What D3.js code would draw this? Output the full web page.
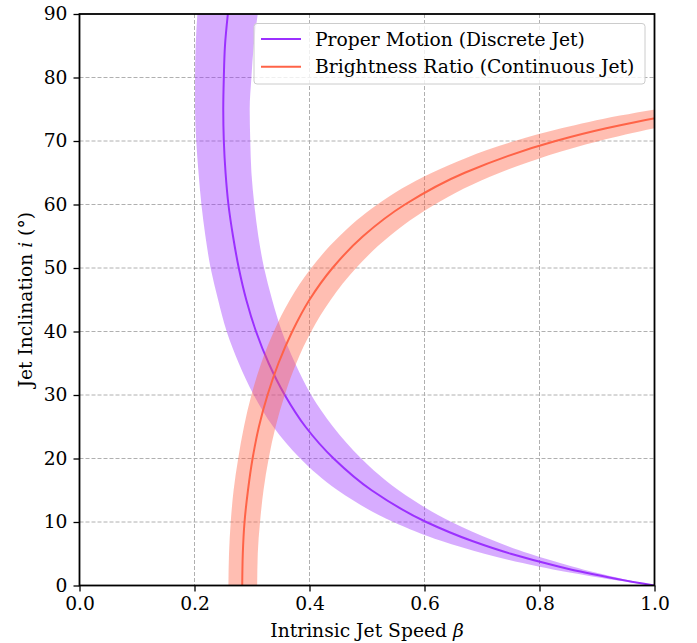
<!DOCTYPE html>
<html>
<head>
<meta charset="utf-8">
<script src="https://cdn.jsdelivr.net/npm/d3@7"></script>
<style>
  body { margin: 0; background: #fff; }
  svg text { font-family: "DejaVu Serif"; }
</style>
</head>
<body>
<div id="chart"></div>
<script>
// values (inclination in degrees, speed as beta)
var pmIncl = [0, 1, 2, 3, 5, 7, 10, 15, 20, 25, 30, 35, 40, 45, 50, 55, 60, 65, 70, 75, 80, 85, 90];
var pmBeta = [1.000, 0.937, 0.881, 0.833, 0.750, 0.683, 0.603, 0.508, 0.442, 0.393, 0.357, 0.329, 0.307, 0.290, 0.277, 0.267, 0.259, 0.254, 0.251, 0.250, 0.251, 0.253, 0.258];
var pmBetaLow = [1.000, 0.921, 0.855, 0.798, 0.704, 0.630, 0.546, 0.449, 0.384, 0.337, 0.303, 0.277, 0.256, 0.241, 0.228, 0.219, 0.212, 0.207, 0.203, 0.201, 0.201, 0.202, 0.205];
var pmBetaHigh = [1.000, 0.947, 0.899, 0.857, 0.783, 0.722, 0.647, 0.555, 0.490, 0.441, 0.403, 0.375, 0.352, 0.335, 0.321, 0.311, 0.304, 0.299, 0.297, 0.296, 0.299, 0.303, 0.310];

var brIncl = [0, 5, 10, 15, 20, 25, 30, 35, 40, 45, 50, 55, 60, 65, 70, 72, 73, 74, 76];
var brBeta = [0.283, 0.284, 0.287, 0.293, 0.301, 0.312, 0.327, 0.346, 0.370, 0.400, 0.440, 0.493, 0.566, 0.670, 0.828, 0.916, 0.968, 1.027, 1.170];
var brBetaLow = [0.259, 0.260, 0.263, 0.268, 0.276, 0.286, 0.299, 0.316, 0.338, 0.366, 0.403, 0.452, 0.518, 0.613, 0.757, 0.838, 0.886, 0.940, 1.071];
var brBetaHigh = [0.309, 0.310, 0.314, 0.320, 0.329, 0.341, 0.357, 0.377, 0.403, 0.437, 0.481, 0.539, 0.618, 0.731, 0.904, 1.000, 1.057, 1.121, 1.277];

var xTicks = [0, 0.2, 0.4, 0.6, 0.8, 1.0];
var yTicks = [0, 10, 20, 30, 40, 50, 60, 70, 80, 90];
var seriesNames = ["Proper Motion (Discrete Jet)", "Brightness Ratio (Continuous Jet)"];
var seriesColors = ["#9b30ff", "#ff6347"];

var svgWidth = 697;
var svgHeight = 643;
var margin = { top: 14, right: 42.5, bottom: 57.5, left: 79.5 };
var width = svgWidth - margin.left - margin.right;
var height = svgHeight - margin.top - margin.bottom;
var fontSize = "18.7px";

var svg = d3.select("#chart")
  .append("svg")
  .attr("width", svgWidth)
  .attr("height", svgHeight)
  .attr("font-family", "DejaVu Serif");

var chartGroup = svg.append("g")
  .attr("transform", `translate(${margin.left}, ${margin.top})`);

var xScale = d3.scaleLinear().domain([0, 1]).range([0, width]);
var yScale = d3.scaleLinear().domain([0, 90]).range([height, 0]);

svg.append("defs").append("clipPath")
  .attr("id", "plotClip")
  .append("rect")
  .attr("width", width)
  .attr("height", height);

// grid
chartGroup.append("g")
  .selectAll("line")
  .data(xTicks.slice(1, -1))
  .enter()
  .append("line")
  .attr("x1", d => xScale(d)).attr("x2", d => xScale(d))
  .attr("y1", 0).attr("y2", height)
  .attr("stroke", "#b0b0b0").attr("stroke-width", 1)
  .attr("stroke-dasharray", "4,2");

chartGroup.append("g")
  .selectAll("line")
  .data(yTicks.slice(1, -1))
  .enter()
  .append("line")
  .attr("y1", d => yScale(d)).attr("y2", d => yScale(d))
  .attr("x1", 0).attr("x2", width)
  .attr("stroke", "#b0b0b0").attr("stroke-width", 1)
  .attr("stroke-dasharray", "4,2");

var plot = chartGroup.append("g").attr("clip-path", "url(#plotClip)");

function band(incl, lo, hi) {
  return d3.area()
    .curve(d3.curveMonotoneY)
    .y((d, i) => yScale(incl[i]))
    .x0((d, i) => xScale(lo[i]))
    .x1((d, i) => xScale(hi[i]))(incl);
}

function curve(incl, beta) {
  return d3.line()
    .curve(d3.curveMonotoneY)
    .y((d, i) => yScale(incl[i]))
    .x((d, i) => xScale(beta[i]))(incl);
}

plot.append("path")
  .attr("d", band(pmIncl, pmBetaLow, pmBetaHigh))
  .attr("fill", seriesColors[0]).attr("fill-opacity", 0.4);

plot.append("path")
  .attr("d", curve(pmIncl, pmBeta))
  .attr("fill", "none").attr("stroke", seriesColors[0]).attr("stroke-width", 2);

plot.append("path")
  .attr("d", band(brIncl, brBetaLow, brBetaHigh))
  .attr("fill", seriesColors[1]).attr("fill-opacity", 0.42);

plot.append("path")
  .attr("d", curve(brIncl, brBeta))
  .attr("fill", "none").attr("stroke", seriesColors[1]).attr("stroke-width", 2);

// axes
var xAxis = d3.axisBottom(xScale).tickValues(xTicks).tickFormat(d3.format(".1f")).tickSizeOuter(0).tickSize(6).tickPadding(5);
var yAxis = d3.axisLeft(yScale).tickValues(yTicks).tickSizeOuter(0).tickSize(6).tickPadding(6);

var gx = chartGroup.append("g")
  .attr("transform", `translate(0, ${height})`)
  .call(xAxis);
var gy = chartGroup.append("g").call(yAxis);

[gx, gy].forEach(function(g) {
  g.attr("font-family", "DejaVu Serif").attr("font-size", fontSize);
  g.select(".domain").remove();
  g.selectAll(".tick line").attr("stroke", "#000").attr("stroke-width", 1.3);
  g.selectAll(".tick text").attr("fill", "#000");
});

chartGroup.append("rect")
  .attr("width", width).attr("height", height)
  .attr("fill", "none").attr("stroke", "#000").attr("stroke-width", 1.8);

// axis labels
var xLabel = svg.append("text")
  .attr("x", margin.left + width / 2)
  .attr("y", 637)
  .attr("text-anchor", "middle")
  .attr("font-size", fontSize);
xLabel.append("tspan").text("Intrinsic Jet Speed ");
xLabel.append("tspan").attr("font-style", "italic").text("β");

var yLabel = svg.append("text")
  .attr("transform", `translate(32, ${margin.top + height / 2}) rotate(-90)`)
  .attr("text-anchor", "middle")
  .attr("font-size", fontSize);
yLabel.append("tspan").text("Jet Inclination ");
yLabel.append("tspan").attr("font-style", "italic").text("i");
yLabel.append("tspan").text(" (°)");

// legend
var legend = svg.append("g").attr("transform", "translate(254, 23.5)");
legend.append("rect")
  .attr("width", 391).attr("height", 60.5)
  .attr("rx", 3)
  .attr("fill", "#fff").attr("fill-opacity", 0.8)
  .attr("stroke", "#cccccc").attr("stroke-width", 1);

var items = legend.selectAll(".item")
  .data(seriesNames)
  .enter()
  .append("g")
  .attr("transform", (d, i) => `translate(0, ${15.5 + i * 27.7})`);

items.append("line")
  .attr("x1", 7).attr("x2", 47)
  .attr("stroke", (d, i) => seriesColors[i])
  .attr("stroke-width", 2);

items.append("text")
  .attr("x", 61)
  .attr("dy", "0.35em")
  .attr("font-size", fontSize)
  .text(d => d);
</script>
</body>
</html>
